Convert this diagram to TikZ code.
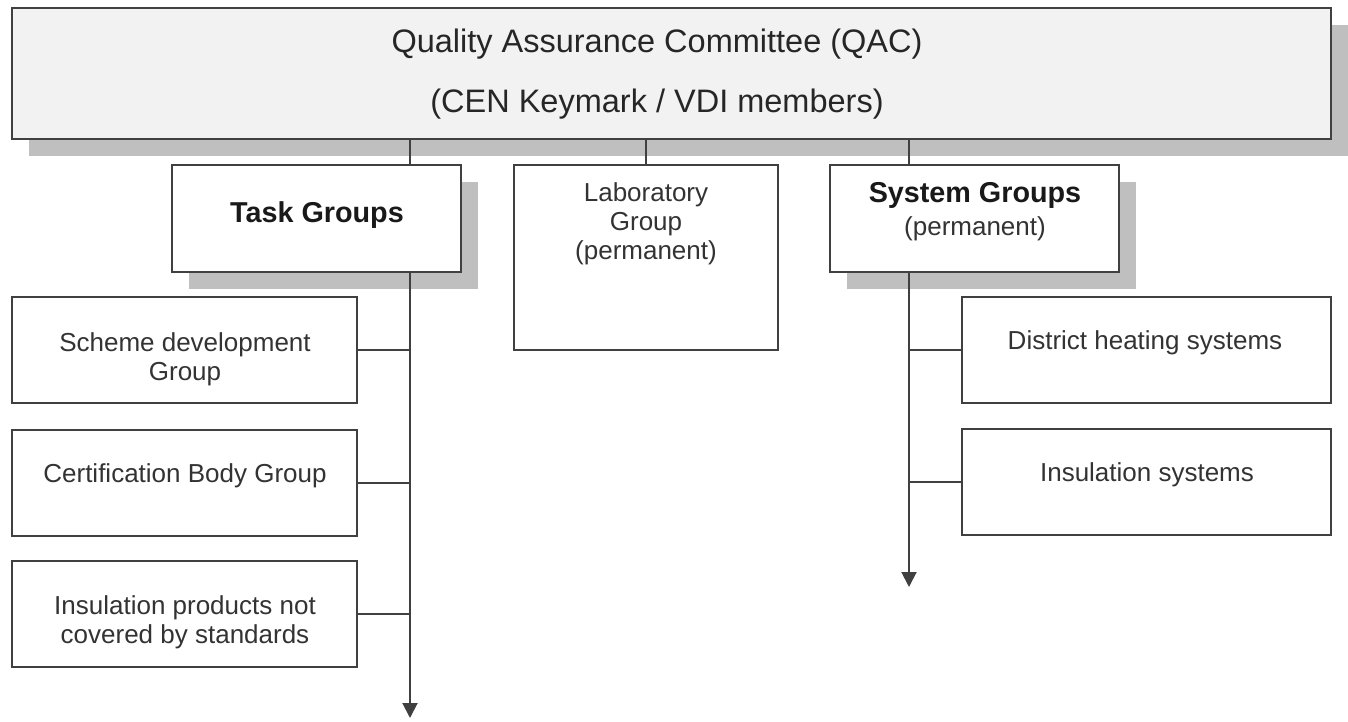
\documentclass[tikz,border=0pt]{standalone}
\usepackage{fontspec}
\setmainfont{Liberation Sans}
\usetikzlibrary{arrows.meta,shadows}

\tikzset{
  box/.style={draw=black!75, line width=0.8pt, fill=white, inner sep=0pt},
  shbox/.style={box, drop shadow={shadow xshift=6.8pt, shadow yshift=-6.8pt, fill=black!25, opacity=1}},
  txt/.style={align=center, inner sep=0pt, text=black!80, font=\fontsize{10.4}{11.6}\selectfont},
  btxt/.style={txt, text=black!90, font=\fontsize{11.5}{13.2}\selectfont\bfseries},
  conn/.style={draw=black!75, line width=0.8pt},
  arr/.style={conn, -{Triangle[length=6pt,width=6pt]}},
}

\begin{document}
\begin{tikzpicture}[x=0.4pt,y=-0.4pt]
	\useasboundingbox (0,0) rectangle (1348,721);

	\node[shbox, fill=black!5, minimum width=527.6pt, minimum height=52.4pt] (qac) at (671.5,73.5) {};
	\node[shbox, minimum width=115.6pt, minimum height=42.8pt] (task) at (316.5,218.5) {};
	\node[box, minimum width=105.6pt, minimum height=74pt] (lab) at (646,257.5) {};
	\node[shbox, minimum width=115.6pt, minimum height=42.8pt] (sys) at (974.5,218.5) {};

	\node[box, minimum width=138pt, minimum height=42.4pt] (scheme) at (184.5,349.5) {};
	\node[box, minimum width=138pt, minimum height=42.4pt] (cert) at (184.5,482.5) {};
	\node[box, minimum width=138pt, minimum height=42.4pt] (insprod) at (184.5,614) {};
	\node[box, minimum width=147.6pt, minimum height=42.4pt] (district) at (1146.5,350) {};
	\node[box, minimum width=147.6pt, minimum height=42.4pt] (inssys) at (1146.5,482) {};

	\node[txt, text=black!85, font=\fontsize{13}{24}\selectfont] (qactxt) at (657,74) {Quality Assurance Committee (QAC)\\(CEN Keymark / VDI members)};
	\node[btxt] (tasktxt) at (317,215) {Task Groups};
	\node[txt] (labtxt) at (646,224) {Laboratory\\Group\\(permanent)};
	\node[txt, font=\fontsize{10.4}{13.2}\selectfont] (systxt) at (975,212) {{\fontsize{11.5}{13.2}\selectfont\bfseries\color{black!90}System Groups}\\(permanent)};
	\node[txt] (schemetxt) at (185,359) {Scheme development\\Group};
	\node[txt] (certtxt) at (185,476) {Certification Body Group};
	\node[txt] (insprodtxt) at (185,622) {Insulation products not\\covered by standards};
	\node[txt] (districttxt) at (1145,343) {District heating systems};
	\node[txt] (inssystxt) at (1147,475) {Insulation systems};

	\coordinate (taskend) at (410,718);
	\coordinate (sysend) at (909,587);

	\draw[conn] (qac.south -| taskend) -- (task.north -| taskend);
	\draw[conn] (qac.south -| lab) -- (lab.north);
	\draw[conn] (qac.south -| sysend) -- (sys.north -| sysend);
	\draw[arr] (task.south -| taskend) -- (taskend);
	\draw[arr] (sys.south -| sysend) -- (sysend);

	\foreach \n in {scheme,cert,insprod}{
		\draw[conn] (\n.east) -- (\n.east -| taskend);
	}
	\foreach \n in {district,inssys}{
		\draw[conn] (\n.west) -- (\n.west -| sysend);
	}
\end{tikzpicture}
\end{document}
